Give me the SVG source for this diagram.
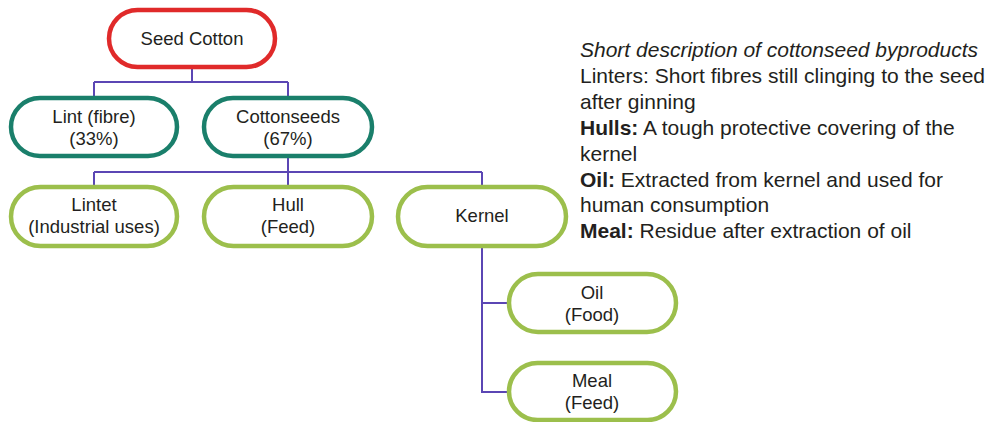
<svg xmlns="http://www.w3.org/2000/svg" width="995" height="422" viewBox="0 0 995 422">
<style>
.box{fill:#fff;stroke-width:4.5}
.red{stroke:#e02a2a}
.teal{stroke:#1a7f6b}
.green{stroke:#9cbf4c}
.lbl{font-family:"Liberation Sans",Arial,sans-serif;font-size:18.5px;fill:#231f20;text-anchor:middle}
.conn{fill:none;stroke:#5b46b4;stroke-width:2}
.desc{font-family:"Liberation Sans",Arial,sans-serif;font-size:21px;fill:#231f20}
</style>
<rect width="995" height="422" fill="#fff"/>
<g id="connectors">
<path class="conn" d="M192 67V82M94 82H288M94 82V98M288 82V98"/>
<path class="conn" d="M288 156V172M94 172H482M94 172V187M288 172V187M482 172V187"/>
<path class="conn" d="M482 246V392H509M482 303H509"/>
</g>
<g id="seed-cotton"><rect class="box red" x="109" y="10" width="166" height="57" rx="28.5"/><text class="lbl" x="192" y="45">Seed Cotton</text></g>
<g id="lint"><rect class="box teal" x="11" y="98" width="166" height="58" rx="29"/><text class="lbl" x="94" y="123">Lint (fibre)</text><text class="lbl" x="94" y="145">(33%)</text></g>
<g id="cottonseeds"><rect class="box teal" x="204" y="98" width="168" height="58" rx="29"/><text class="lbl" x="288" y="123">Cottonseeds</text><text class="lbl" x="288" y="145">(67%)</text></g>
<g id="lintet"><rect class="box green" x="11" y="187" width="166" height="59" rx="29.5"/><text class="lbl" x="94" y="211">Lintet</text><text class="lbl" x="94" y="233">(Industrial uses)</text></g>
<g id="hull"><rect class="box green" x="204" y="187" width="168" height="59" rx="29.5"/><text class="lbl" x="288" y="211">Hull</text><text class="lbl" x="288" y="233">(Feed)</text></g>
<g id="kernel"><rect class="box green" x="398" y="187" width="168" height="59" rx="29.5"/><text class="lbl" x="482" y="222">Kernel</text></g>
<g id="oil"><rect class="box green" x="509" y="274" width="167" height="58" rx="29"/><text class="lbl" x="592" y="299">Oil</text><text class="lbl" x="592" y="321">(Food)</text></g>
<g id="meal"><rect class="box green" x="509" y="363" width="167" height="57" rx="28.5"/><text class="lbl" x="592" y="387">Meal</text><text class="lbl" x="592" y="409">(Feed)</text></g>
<g id="description" class="desc">
<text x="580" y="57" font-style="italic">Short description of cottonseed byproducts</text>
<text x="580" y="83">Linters: Short fibres still clinging to the seed</text>
<text x="580" y="109">after ginning</text>
<text x="580" y="135"><tspan font-weight="bold">Hulls:</tspan> A tough protective covering of the</text>
<text x="580" y="161">kernel</text>
<text x="580" y="187"><tspan font-weight="bold">Oil:</tspan> Extracted from kernel and used for</text>
<text x="580" y="212">human consumption</text>
<text x="580" y="238"><tspan font-weight="bold">Meal:</tspan> Residue after extraction of oil</text>
</g>
</svg>
